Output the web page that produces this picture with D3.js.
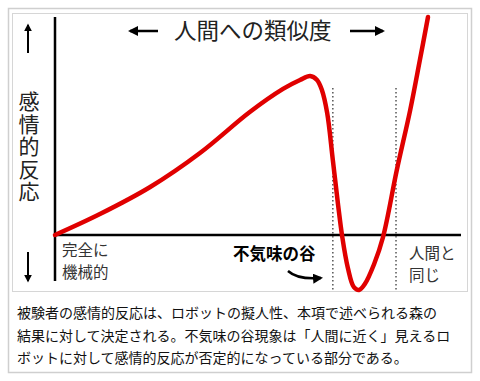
<!DOCTYPE html>
<html><head><meta charset="utf-8">
<script src="https://cdn.jsdelivr.net/npm/d3@7"></script>
<style>body{margin:0;background:#fff}svg{display:block}</style>
</head><body>
<svg id="c" width="480" height="381"></svg>
<script>
// Data (human likeness 0-100, emotional response)
const likeness = [0, 11.1, 23.5, 35.8, 48.1, 56.3, 60.5, 63.0, 64.7, 65.9, 67.2, 68.6, 69.9, 70.9, 72.3, 73.8, 75.1, 76.5, 78.8, 81.0, 84.4, 87.7, 90.1, 92.1];
const response = [0, 9.6, 22.0, 37.6, 56.4, 67.0, 71.1, 72.9, 71.1, 66.5, 56.0, 34.4, 13.8, -0.5, -15, -23.9, -25.2, -22.5, -13.3, -0.9, 29.8, 57.3, 80.3, 100];
const valleyBounds = [68.6, 84.2];
const yAxisLabel = "感情的反応";
const xTitle = "人間への類似度";
const leftLabel = ["完全に","機械的"];
const rightLabel = ["人間と","同じ"];
const valleyLabel = "不気味の谷";
const caption = [
  "被験者の感情的反応は、ロボットの擬人性、本項で述べられる森の",
  "結果に対して決定される。不気味の谷現象は「人間に近く」見えるロ",
  "ボットに対して感情的反応が否定的になっている部分である。"
];

const svg = d3.select("#c");
const F = "'Noto Sans CJK JP','Noto Sans',sans-serif";
const x = d3.scaleLinear().domain([0,100]).range([55,460]);
const y = d3.scaleLinear().domain([0,100]).range([235,17]);

// frames
svg.append("rect").attr("x",8.5).attr("y",8.5).attr("width",463).attr("height",364)
  .attr("fill","#fff").attr("stroke","#cfcfcf").attr("stroke-width",1.5);
svg.append("rect").attr("x",12.5).attr("y",13.5).attr("width",455).attr("height",278)
  .attr("fill","#fff").attr("stroke","#d6d6d6").attr("stroke-width",1);

const defs = svg.append("defs");
defs.append("marker").attr("id","ah").attr("viewBox","0 0 10 10").attr("refX",8).attr("refY",5)
  .attr("markerWidth",4).attr("markerHeight",4).attr("orient","auto")
  .append("path").attr("d","M0,0 L10,5 L0,10 z").attr("fill","#000");

// axes
svg.append("line").attr("x1",x(0)).attr("x2",x(0)).attr("y1",17).attr("y2",281)
  .attr("stroke","#000").attr("stroke-width",2.5);
svg.append("line").attr("x1",x(0)).attr("x2",461).attr("y1",y(0)).attr("y2",y(0))
  .attr("stroke","#000").attr("stroke-width",2.5);

// dotted valley bounds
svg.selectAll(".vb").data(valleyBounds).enter().append("line")
  .attr("x1",d=>x(d)).attr("x2",d=>x(d)).attr("y1",88).attr("y2",291)
  .attr("stroke","#555").attr("stroke-width",1.5).attr("stroke-dasharray","1.5,2.5");

// curve
const pts = likeness.map((d,i)=>[d,response[i]]);
const line = d3.line().x(d=>x(d[0])).y(d=>y(d[1])).curve(d3.curveCatmullRom.alpha(0.5));
svg.append("path").attr("d",line(pts)).attr("fill","none").attr("stroke","#e00000")
  .attr("stroke-width",4.5).attr("stroke-linejoin","round").attr("stroke-linecap","round");

// arrows
function arrow(x1,y1,x2,y2,w){
  svg.append("line").attr("x1",x1).attr("y1",y1).attr("x2",x2).attr("y2",y2)
    .attr("stroke","#000").attr("stroke-width",w||2).attr("marker-end","url(#ah)");
}
arrow(28,53,28,25);
arrow(28,252,28,281);
arrow(158,31,130,31,2.5);
arrow(350,31,383,31,2.5);

// y label (vertical)
svg.append("text").attr("x",29).attr("y",91)
  .attr("writing-mode","vertical-rl").attr("text-orientation","upright")
  .attr("letter-spacing",1.5)
  .attr("font-family",F).attr("font-size",21).attr("fill","#222").text(yAxisLabel);

// title
svg.append("text").attr("x",174).attr("y",31).attr("dy","0.36em").attr("font-family",F)
  .attr("font-size",22.5).attr("fill","#222").text(xTitle);

// left/right labels
svg.selectAll(".ll").data(leftLabel).enter().append("text")
  .attr("x",62).attr("y",(d,i)=>250+i*22.5).attr("dy","0.36em").attr("font-family",F)
  .attr("font-size",15.5).attr("fill","#333").text(d=>d);
svg.selectAll(".rl").data(rightLabel).enter().append("text")
  .attr("x",409).attr("y",(d,i)=>253+i*22.5).attr("dy","0.36em").attr("font-family",F)
  .attr("font-size",15.5).attr("fill","#333").text(d=>d);

// valley label
svg.append("text").attr("x",233).attr("y",254).attr("dy","0.36em").attr("font-family",F)
  .attr("font-size",16.5).attr("font-weight","bold").attr("fill","#000").text(valleyLabel);
svg.append("path").attr("d","M288,271 Q298,280 321,278").attr("fill","none")
  .attr("stroke","#000").attr("stroke-width",2.5).attr("marker-end","url(#ah)");

// caption
svg.selectAll(".cap").data(caption).enter().append("text")
  .attr("x",17).attr("y",(d,i)=>313+i*22.5).attr("dy","0.36em").attr("font-family",F)
  .attr("font-size",14).attr("fill","#111").text(d=>d);
</script>
</body></html>
